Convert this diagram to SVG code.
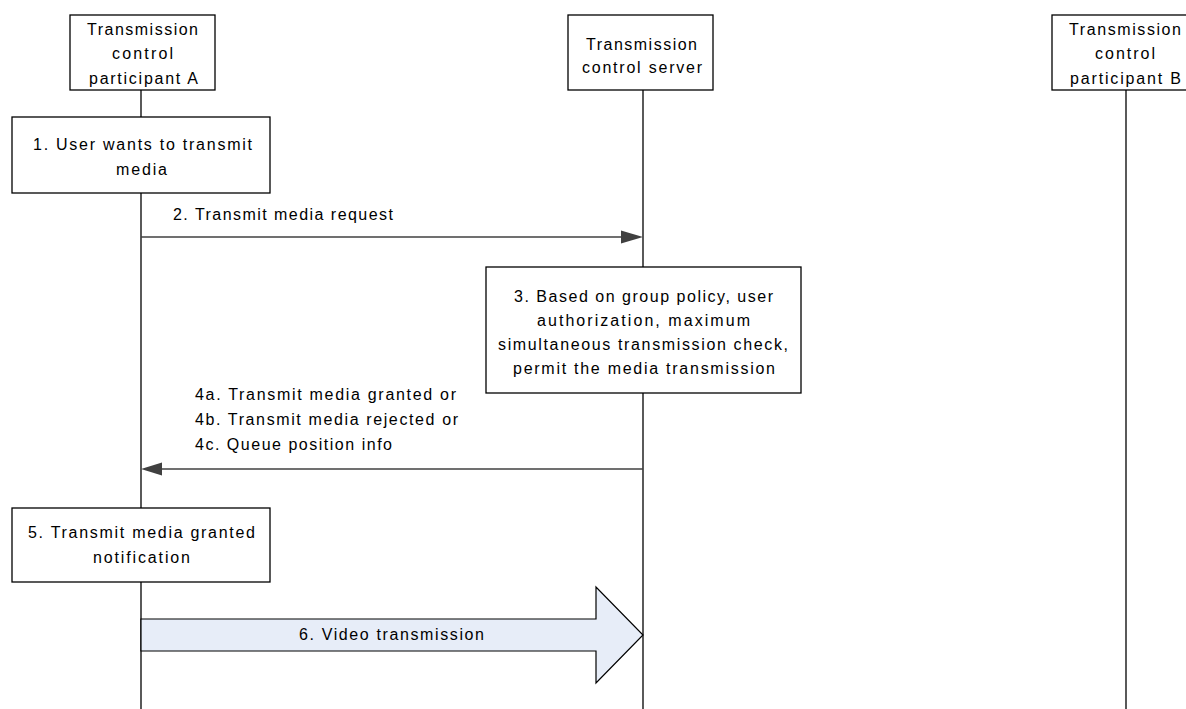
<svg xmlns="http://www.w3.org/2000/svg" width="1186" height="709" viewBox="0 0 1186 709">
<style>
  .box { fill: #ffffff; stroke: #000000; stroke-width: 1.3; }
  .life { stroke: #000000; stroke-width: 1.3; fill: none; }
  .msg { stroke: #404040; stroke-width: 1.5; fill: none; }
  .head { fill: #404040; stroke: none; }
  .big { fill: #e7edf8; stroke: #000000; stroke-width: 1.2; }
  text { font-family: "Liberation Sans", Arial, sans-serif; font-size: 16px; fill: #000000; }
</style>
<rect width="1186" height="709" fill="#ffffff"/>
<g id="lifelines">
  <line class="life" x1="141" y1="90" x2="141" y2="709"/>
  <line class="life" x1="643" y1="90" x2="643" y2="709"/>
  <line class="life" x1="1126" y1="90" x2="1126" y2="709"/>
</g>
<g id="participantA">
  <rect class="box" x="70" y="15" width="145" height="75"/>
  <text x="87" y="35" textLength="111" lengthAdjust="spacing">Transmission</text>
  <text x="112" y="59" textLength="61" lengthAdjust="spacing">control</text>
  <text x="89" y="84" textLength="109" lengthAdjust="spacing">participant A</text>
</g>
<g id="server">
  <rect class="box" x="568" y="15" width="145" height="75"/>
  <text x="586" y="50" textLength="111" lengthAdjust="spacing">Transmission</text>
  <text x="582" y="73" textLength="120" lengthAdjust="spacing">control server</text>
</g>
<g id="participantB">
  <rect class="box" x="1052" y="15" width="145" height="75"/>
  <text x="1069" y="35" textLength="112" lengthAdjust="spacing">Transmission</text>
  <text x="1095" y="59" textLength="60" lengthAdjust="spacing">control</text>
  <text x="1070" y="84" textLength="111" lengthAdjust="spacing">participant B</text>
</g>
<g id="step1">
  <rect class="box" x="12" y="117" width="258" height="76"/>
  <text x="33" y="150" textLength="219" lengthAdjust="spacing">1. User wants to transmit</text>
  <text x="116" y="175" textLength="51" lengthAdjust="spacing">media</text>
</g>
<g id="step3">
  <rect class="box" x="486" y="267" width="315" height="126"/>
  <text x="514" y="302" textLength="259" lengthAdjust="spacing">3. Based on group policy, user</text>
  <text x="537" y="326" textLength="213" lengthAdjust="spacing">authorization, maximum</text>
  <text x="498" y="350" textLength="290" lengthAdjust="spacing">simultaneous transmission check,</text>
  <text x="513" y="374" textLength="262" lengthAdjust="spacing">permit the media transmission</text>
</g>
<g id="step5">
  <rect class="box" x="12" y="508" width="258" height="74"/>
  <text x="28" y="538" textLength="227" lengthAdjust="spacing">5. Transmit media granted</text>
  <text x="93" y="563" textLength="97" lengthAdjust="spacing">notification</text>
</g>
<g id="connectors">
  <g id="msg2">
    <line class="msg" x1="141" y1="237" x2="622" y2="237"/>
    <polygon class="head" points="643,237 621,230.5 621,243.5"/>
    <text x="173" y="220" textLength="220" lengthAdjust="spacing">2. Transmit media request</text>
  </g>
  <g id="msg4">
    <line class="msg" x1="643" y1="469" x2="160" y2="469"/>
    <polygon class="head" points="141,469 162,462.5 162,475.5"/>
    <text x="195" y="400" textLength="261" lengthAdjust="spacing">4a. Transmit media granted or</text>
    <text x="195" y="425" textLength="263" lengthAdjust="spacing">4b. Transmit media rejected or</text>
    <text x="195" y="450" textLength="197" lengthAdjust="spacing">4c. Queue position info</text>
  </g>
  <g id="msg6">
    <polygon class="big" points="141,619 596,619 596,587 643,635 596,683 596,651 141,651"/>
    <text x="299" y="640" textLength="185" lengthAdjust="spacing">6. Video transmission</text>
  </g>
</g>
</svg>
